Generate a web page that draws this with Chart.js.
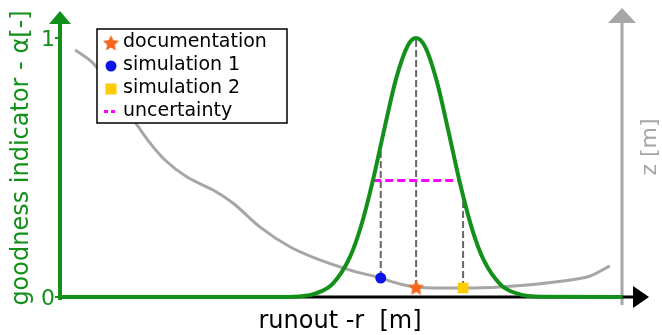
<!DOCTYPE html>
<html>
<head>
<meta charset="utf-8">
<script src="https://cdn.jsdelivr.net/npm/chart.js@4/dist/chart.umd.min.js"></script>
<style>
  html, body { margin: 0; padding: 0; background: #fff; }
  canvas { display: block; }
</style>
</head>
<body>
<canvas id="chart" width="662" height="335"></canvas>
<script>
// goodness indicator curve (alpha vs runout)
const runout   = [0, 38, 42, 44, 47, 50, 52, 54, 56, 58, 60, 61.4, 63, 65, 67, 69, 71, 73, 76, 79, 83, 97];
const goodness = [0, 0.000, 0.004, 0.013, 0.051, 0.155, 0.281, 0.455, 0.657, 0.847, 0.972, 1, 0.964, 0.830, 0.637, 0.436, 0.266, 0.145, 0.047, 0.012, 0.001, 0];

// terrain profile (z), same vertical range as alpha, no ticks
const terrainR = [2.6, 5.7, 8.6, 11.2, 13.3, 15.5, 18.1, 21.9, 26.4, 29.8, 34.5, 39.7, 44.8, 50, 55.3, 58.6, 61.4, 65.5, 69.5, 75.9, 86.7, 91.4, 94.8];
const terrainZ = [0.954, 0.903, 0.819, 0.730, 0.664, 0.595, 0.529, 0.463, 0.413, 0.363, 0.270, 0.193, 0.143, 0.104, 0.073, 0.050, 0.039, 0.035, 0.035, 0.039, 0.062, 0.081, 0.120];

// runout points
const pointNames = ['documentation', 'simulation 1', 'simulation 2'];
const pointR     = [61.4, 55.3, 69.5];
const pointZ     = [0.039, 0.073, 0.035];
const pointAlpha = [1, 0.57, 0.40];

// uncertainty band
const uncertaintyR = [54.0, 68.6];
const uncertaintyAlpha = 0.45;

const yTicks = [0, 1];

const GREEN = '#12901a';
const GRAY = '#a6a6a6';
const ORANGE = '#f5661c';
const BLUE = '#0a14e6';
const YELLOW = '#ffcc00';
const MAGENTA = '#ff00ff';
const FONT = '"DejaVu Sans", sans-serif';

// filled star marker
function makeStar(size, color) {
    const c = document.createElement('canvas');
    c.width = size; c.height = size;
    const g = c.getContext('2d');
    const cx = size / 2, cy = size / 2 + 1, ro = size / 2, ri = size / 4.2;
    g.beginPath();
    for (let i = 0; i < 10; i++) {
        const r = i % 2 === 0 ? ro : ri;
        const a = -Math.PI / 2 + i * Math.PI / 5;
        g.lineTo(cx + r * Math.cos(a), cy + r * Math.sin(a));
    }
    g.closePath();
    g.fillStyle = color;
    g.fill();
    return c;
}
const starImg = makeStar(17, ORANGE);

const markerStyles = [
    { pointStyle: starImg, color: ORANGE, radius: 8 },
    { pointStyle: 'circle', color: BLUE, radius: 5.5 },
    { pointStyle: 'rect', color: YELLOW, radius: 7.5 }
];

const datasets = [];

datasets.push({
    label: 'goodness',
    data: runout.map((r, i) => ({ x: r, y: goodness[i] })),
    yAxisID: 'y',
    borderColor: GREEN,
    borderWidth: 4,
    pointRadius: 0,
    cubicInterpolationMode: 'monotone',
    clip: false,
    order: 1
});

pointNames.forEach((name, i) => {
    datasets.push({
        label: name,
        data: [{ x: pointR[i], y: pointZ[i] }],
        yAxisID: 'z',
        showLine: false,
        pointStyle: markerStyles[i].pointStyle,
        pointRadius: markerStyles[i].radius,
        backgroundColor: markerStyles[i].color,
        borderColor: markerStyles[i].color,
        borderWidth: 0,
        clip: false,
        order: 0
    });
    // vertical drop line from the point up to the curve
    datasets.push({
        label: 'drop ' + name,
        data: [{ x: pointR[i], y: pointZ[i] }, { x: pointR[i], y: pointAlpha[i] }],
        yAxisID: 'y',
        borderColor: '#666666',
        borderWidth: 2,
        borderDash: [7, 3],
        pointRadius: 0,
        clip: false,
        order: 3
    });
});

datasets.push({
    label: 'uncertainty',
    data: uncertaintyR.map(r => ({ x: r, y: uncertaintyAlpha })),
    yAxisID: 'y',
    borderColor: MAGENTA,
    borderWidth: 3,
    borderDash: [8, 4],
    pointRadius: 0,
    order: 2
});

datasets.push({
    label: 'terrain',
    data: terrainR.map((r, i) => ({ x: r, y: terrainZ[i] })),
    yAxisID: 'z',
    borderColor: GRAY,
    borderWidth: 3,
    pointRadius: 0,
    tension: 0.4,
    cubicInterpolationMode: 'monotone',
    order: 4
});

function arrowHead(ctx, tipX, tipY, dirX, dirY, len, half, color) {
    const bx = tipX - dirX * len, by = tipY - dirY * len;
    ctx.beginPath();
    ctx.moveTo(tipX, tipY);
    ctx.lineTo(bx - dirY * half, by + dirX * half);
    ctx.lineTo(bx + dirY * half, by - dirX * half);
    ctx.closePath();
    ctx.fillStyle = color;
    ctx.fill();
}

const axesPlugin = {
    id: 'axesPlugin',
    beforeDatasetsDraw(chart) {
        const ctx = chart.ctx;
        const xs = chart.scales.x, ys = chart.scales.y;
        const x0 = xs.getPixelForValue(0);
        const y0 = ys.getPixelForValue(0);
        const zx = xs.getPixelForValue(96.9);
        ctx.save();

        // right z axis (gray)
        ctx.strokeStyle = GRAY;
        ctx.lineWidth = 3;
        ctx.beginPath();
        ctx.moveTo(zx, y0 + 8);
        ctx.lineTo(zx, 20);
        ctx.stroke();
        arrowHead(ctx, zx, 8, 0, -1, 15, 14, GRAY);

        // x axis (black)
        ctx.strokeStyle = '#000';
        ctx.lineWidth = 3;
        ctx.beginPath();
        ctx.moveTo(x0, y0);
        ctx.lineTo(636, y0);
        ctx.stroke();
        arrowHead(ctx, 649, y0, 1, 0, 16, 11, '#000');

        // y axis (green)
        ctx.strokeStyle = GREEN;
        ctx.lineWidth = 4;
        ctx.beginPath();
        ctx.moveTo(x0, y0 + 3);
        ctx.lineTo(x0, 22);
        ctx.stroke();
        arrowHead(ctx, x0, 11, 0, -1, 13, 11, GREEN);

        // ticks
        ctx.lineWidth = 2;
        ctx.fillStyle = GREEN;
        ctx.font = '22px ' + FONT;
        ctx.textAlign = 'right';
        ctx.textBaseline = 'middle';
        yTicks.forEach(t => {
            const py = ys.getPixelForValue(t);
            ctx.beginPath();
            ctx.moveTo(x0 - 5, py);
            ctx.lineTo(x0, py);
            ctx.stroke();
            ctx.fillText(String(t), x0 - 5, py + 2);
        });

        // titles
        ctx.fillStyle = '#000';
        ctx.textAlign = 'center';
        ctx.font = '24px ' + FONT;
        ctx.fillText('runout -r  [m]', 340, 322);

        ctx.save();
        ctx.translate(22, 158);
        ctx.rotate(-Math.PI / 2);
        ctx.fillStyle = GREEN;
        ctx.font = '24px ' + FONT;
        ctx.fillText('goodness indicator - α[-]', 0, 0);
        ctx.restore();

        ctx.save();
        ctx.translate(650, 147);
        ctx.rotate(-Math.PI / 2);
        ctx.fillStyle = GRAY;
        ctx.font = '22px ' + FONT;
        ctx.fillText('z [m]', 0, 0);
        ctx.restore();

        ctx.restore();
    },
    afterDraw(chart) {
        const ctx = chart.ctx;
        ctx.save();
        const bx = 97, by = 29, bw = 190, bh = 94;
        ctx.fillStyle = '#fff';
        ctx.fillRect(bx, by, bw, bh);
        ctx.strokeStyle = '#000';
        ctx.lineWidth = 1.5;
        ctx.strokeRect(bx, by, bw, bh);

        ctx.font = '19px ' + FONT;
        ctx.textAlign = 'left';
        ctx.textBaseline = 'middle';
        ctx.fillStyle = '#000';
        const rows = pointNames.concat(['uncertainty']);
        rows.forEach((name, i) => {
            const cy = by + 13 + i * 23;
            const mx = 111;
            if (i === 0) {
                ctx.drawImage(starImg, mx - 8.5, cy - 8);
            } else if (i === 1) {
                ctx.beginPath();
                ctx.arc(mx, cy + 1, 5.5, 0, Math.PI * 2);
                ctx.fillStyle = BLUE;
                ctx.fill();
            } else if (i === 2) {
                ctx.fillStyle = YELLOW;
                ctx.fillRect(mx - 5.5, cy - 4.5, 11, 11);
            } else {
                ctx.fillStyle = MAGENTA;
                ctx.fillRect(mx - 7, cy - 1, 4, 3);
                ctx.fillRect(mx, cy - 1, 4, 3);
            }
            ctx.fillStyle = '#000';
            ctx.fillText(name, 123, cy);
        });
        ctx.restore();
    }
};

new Chart(document.getElementById('chart'), {
    type: 'line',
    data: { datasets },
    options: {
        responsive: false,
        animation: false,
        layout: { padding: { left: 60, right: 22, top: 38, bottom: 38 } },
        scales: {
            x: { type: 'linear', min: 0, max: 100, display: false },
            y: { min: 0, max: 1, display: false },
            z: { min: 0, max: 1, display: false, position: 'right' }
        },
        plugins: {
            legend: { display: false },
            tooltip: { enabled: false }
        }
    },
    plugins: [axesPlugin]
});
</script>
</body>
</html>
